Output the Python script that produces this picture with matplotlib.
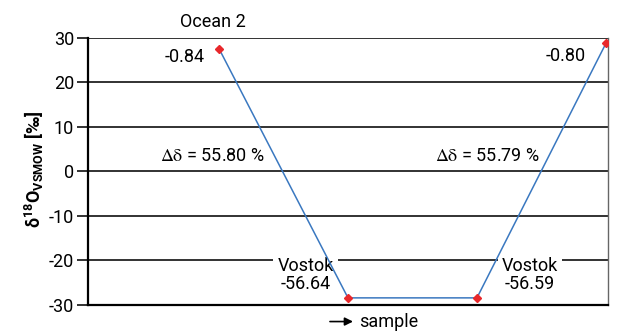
import matplotlib
matplotlib.use("Agg")
import matplotlib.pyplot as plt

plt.rcParams['font.family'] = ['Roboto', 'DejaVu Sans']
plt.rcParams['mathtext.fontset'] = 'custom'
plt.rcParams['mathtext.rm'] = 'Roboto'
plt.rcParams['mathtext.it'] = 'Roboto:italic'
plt.rcParams['mathtext.bf'] = 'Roboto:bold'
plt.rcParams['axes.unicode_minus'] = False

# schematic sample sequence
sample_pos = [0, 1, 2, 3]
delta_plot = [27.6, -28.4, -28.4, 28.8]
value_labels = ['-0.84', '-56.64', '-56.59', '-0.80']
delta_diff = ['55.80', '55.79']
yticks = [-30, -20, -10, 0, 10, 20, 30]

fig = plt.figure(figsize=(6.17, 3.33), dpi=100)
ax = fig.add_axes([0.1426, 0.0841, 0.8428, 0.8018])

for t in yticks:
    ax.axhline(t, color='#222222', lw=1.3, zorder=1)

ax.plot(sample_pos, delta_plot, color='#3a78c0', lw=1.1, zorder=4)
ax.plot(sample_pos, delta_plot, 'D', color='#e8282b', ms=4.5, zorder=5)

ax.set_xlim(-1.016, 3.016)
ax.set_ylim(-30, 30)
ax.set_yticks(yticks)
ax.set_xticks([])
ax.tick_params(axis='y', length=8, width=1.3, color='#222222', labelsize=13, pad=2)

ax.spines['top'].set_visible(False)
ax.spines['left'].set_linewidth(1.6)
ax.spines['bottom'].set_linewidth(1.6)
ax.spines['right'].set_color('#666666')
ax.spines['right'].set_linewidth(1.0)

ax.set_ylabel(r'$\mathbf{\delta^{18}O_{VSMOW}}$ [‰]', fontsize=13, fontweight='bold')
ax.yaxis.set_label_coords(-0.08, 0.51)

fs = 13
ax.text(-0.05, 33.5, 'Ocean 2', ha='center', va='center', fontsize=fs, clip_on=False)
ax.text(-0.27, 25.8, value_labels[0], ha='center', va='center', fontsize=fs)
ax.text(2.69, 26.0, value_labels[3], ha='center', va='center', fontsize=fs)

ax.text(-0.05, 3.5, r'$\mathrm{\Delta\delta}$ = ' + delta_diff[0] + ' %', ha='center',
        va='center', fontsize=fs, math_fontfamily='stix')
ax.text(2.08, 3.5, r'$\mathrm{\Delta\delta}$ = ' + delta_diff[1] + ' %', ha='center',
        va='center', fontsize=fs, math_fontfamily='stix')

box = dict(facecolor='white', edgecolor='none', pad=3)
ax.text(0.67, -23.3, 'Vostok\n' + value_labels[1], ha='center', va='center',
        fontsize=fs, linespacing=1.0, bbox=box, zorder=3)
ax.text(2.41, -23.3, 'Vostok\n' + value_labels[2], ha='center', va='center',
        fontsize=fs, linespacing=1.0, bbox=box, zorder=3)

ax.annotate('', xy=(0.515, -0.062), xytext=(0.46, -0.062), xycoords='axes fraction',
            arrowprops=dict(arrowstyle='-|>', color='black', lw=1.2, mutation_scale=12))
ax.text(0.522, -0.062, 'sample', transform=ax.transAxes, ha='left', va='center',
        fontsize=fs)

fig.savefig('out.png', dpi=100)
